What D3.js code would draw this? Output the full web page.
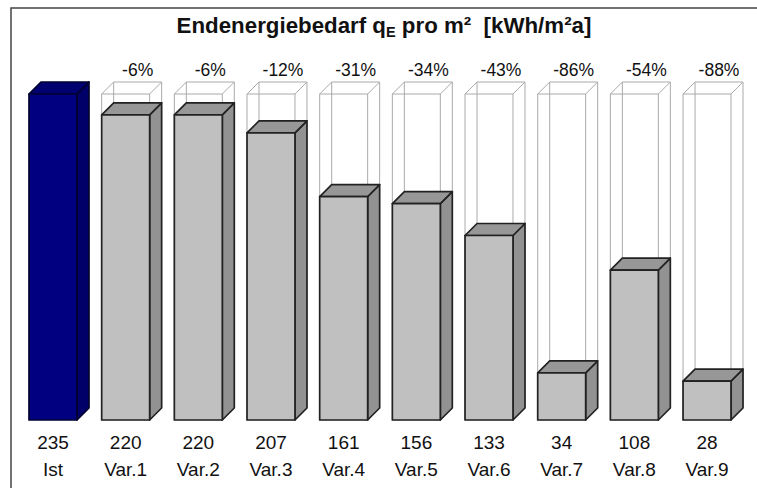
<!DOCTYPE html>
<html lang="de">
<head>
    <meta charset="UTF-8">
    <script src="https://d3js.org/d3.v7.min.js"></script>
    <title>Endenergiebedarf</title>
    <style>
        body { margin: 0; background: #fff; }
        text { font-family: Arial, "Liberation Sans", sans-serif; fill: #111; white-space: pre; }
    </style>
</head>
<body>
    <div id="chart"></div>
    <script>
// data
const categories = ["Ist", "Var.1", "Var.2", "Var.3", "Var.4", "Var.5", "Var.6", "Var.7", "Var.8", "Var.9"];
const values = [235, 220, 220, 207, 161, 156, 133, 34, 108, 28];
const changes = ["", "-6%", "-6%", "-12%", "-31%", "-34%", "-43%", "-86%", "-54%", "-88%"];
const baseValue = 235;

const width = 757, height = 488;
const depth = 12;

const svg = d3.select("#chart").append("svg")
    .attr("width", width)
    .attr("height", height);

// frame (only top and left edges are in view)
svg.append("path")
    .attr("d", `M11,${height + 2} L11,8 L${width + 2},8`)
    .attr("fill", "none")
    .attr("stroke", "#444")
    .attr("stroke-width", 1.5);

// title
const title = svg.append("text")
    .attr("x", 384)
    .attr("y", 33)
    .attr("text-anchor", "middle")
    .style("font-size", "22.3px")
    .style("font-weight", "bold");
title.append("tspan").text("Endenergiebedarf q");
title.append("tspan").attr("dy", 4).style("font-size", "14.5px").text("E");
title.append("tspan").attr("dy", -4).text(" pro m²  [kWh/m²a]");

// scales
const x = d3.scaleBand()
    .domain(categories)
    .range([29, 731])
    .paddingInner(0.34)
    .paddingOuter(0);

const y = d3.scaleLinear()
    .domain([0, baseValue])
    .range([420, 94]);

const data = categories.map((c, i) => ({ cat: c, value: values[i], change: changes[i], ist: i === 0 }));
const bw = x.bandwidth();

// ghost boxes showing the Ist level
const ghost = svg.append("g")
    .attr("fill", "none")
    .attr("stroke", "#aaa")
    .attr("stroke-width", 1);

data.filter(d => !d.ist).forEach(d => {
    const x0 = x(d.cat), x1 = x0 + bw;
    const yt = y(baseValue), yb = y(0);
    ghost.append("path").attr("d",
        `M${x0},${yb} L${x0},${yt} L${x1},${yt} L${x1},${yb} Z` +
        `M${x0 + depth},${yb - depth} L${x0 + depth},${yt - depth} L${x1 + depth},${yt - depth} L${x1 + depth},${yb - depth}` +
        `M${x0},${yt} L${x0 + depth},${yt - depth} M${x1},${yt} L${x1 + depth},${yt - depth}`);
});

// 3D bars
const bars = svg.append("g")
    .attr("stroke-width", 1.7)
    .attr("stroke-linejoin", "round");

data.forEach(d => {
    const x0 = x(d.cat), x1 = x0 + bw;
    const yt = y(d.value), yb = y(0);
    const stroke = d.ist ? "#000030" : "#222";
    // side
    bars.append("path")
        .attr("d", `M${x1},${yb} L${x1},${yt} L${x1 + depth},${yt - depth} L${x1 + depth},${yb - depth} Z`)
        .attr("fill", d.ist ? "#000068" : "#929292")
        .attr("stroke", stroke);
    // top
    bars.append("path")
        .attr("d", `M${x0},${yt} L${x0 + depth},${yt - depth} L${x1 + depth},${yt - depth} L${x1},${yt} Z`)
        .attr("fill", d.ist ? "#000070" : "#979797")
        .attr("stroke", stroke);
    // front
    bars.append("rect")
        .attr("x", x0)
        .attr("y", yt)
        .attr("width", bw)
        .attr("height", yb - yt)
        .attr("fill", d.ist ? "#000080" : "#c0c0c0")
        .attr("stroke", stroke);
});

// percent labels
svg.append("g").selectAll("text")
    .data(data.filter(d => d.change))
    .join("text")
    .attr("x", d => x(d.cat) + bw / 2 + 12)
    .attr("y", 76)
    .attr("text-anchor", "middle")
    .style("font-size", "17.5px")
    .text(d => d.change);

// value and category labels
const labels = svg.append("g").selectAll("g")
    .data(data)
    .join("g")
    .attr("transform", d => `translate(${x(d.cat) + bw / 2},0)`);

labels.append("text")
    .attr("y", 449)
    .attr("text-anchor", "middle")
    .style("font-size", "19px")
    .text(d => d.value);

labels.append("text")
    .attr("y", 476)
    .attr("text-anchor", "middle")
    .style("font-size", "19px")
    .text(d => d.cat);
    </script>
</body>
</html>
